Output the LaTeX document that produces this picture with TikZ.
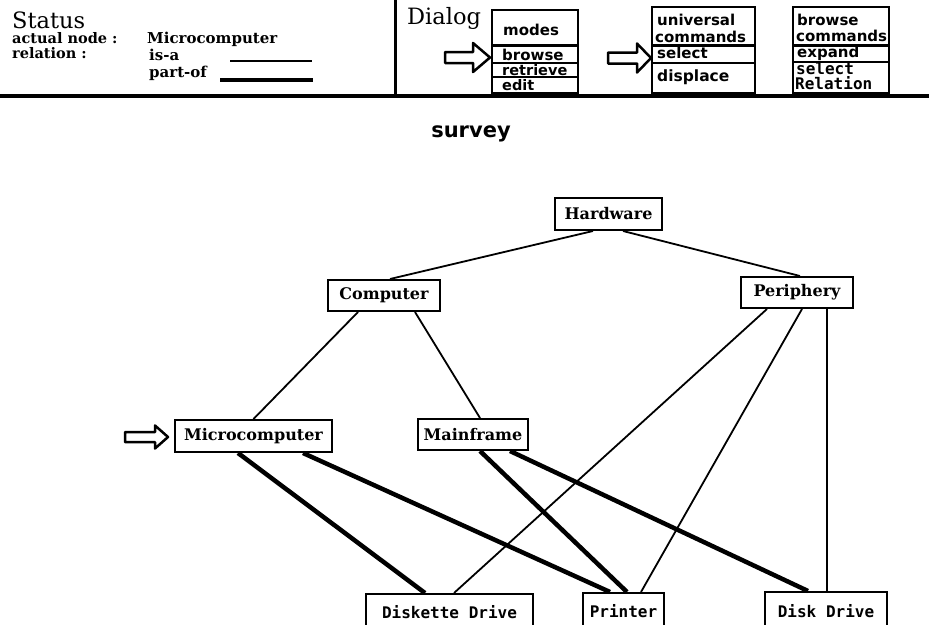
\documentclass[tikz,border=0pt]{standalone}
\usepackage{fontspec}
\newfontfamily\dvserif{DejaVu Serif}
\newfontfamily\dvsans{DejaVu Sans}
\newfontfamily\dvmono{DejaVu Sans Mono}
\begin{document}
\begin{tikzpicture}[x=1pt,y=-1pt,
  gnode/.style={draw, line width=2pt, fill=white, inner sep=0pt, font=\dvserif\bfseries\fontsize{16}{18}\selectfont},
  mnode/.style={draw, line width=2pt, fill=white, inner sep=0pt, font=\dvmono\bfseries\fontsize{16}{18}\selectfont},
  isa/.style={line width=1.8pt},
  partof/.style={line width=4.5pt},
  dlg/.style={anchor=base west, inner sep=0pt, font=\dvsans\bfseries\fontsize{15}{17}\selectfont},
  dlgmono/.style={anchor=base west, inner sep=0pt, font=\dvmono\bfseries\fontsize{16}{17}\selectfont},
  st/.style={anchor=base west, inner sep=0pt, font=\dvserif\bfseries\fontsize{14.5}{16}\selectfont},
  title/.style={anchor=base west, inner sep=0pt, font=\dvserif\fontsize{22.5}{24}\selectfont},
  frame/.style={line width=2pt},
  divider/.style={line width=3pt},
  harrow/.style={line width=2.5pt, line join=round},
]
\useasboundingbox (0,0) rectangle (929,624);

% ---------- header ----------
\draw[line width=4pt] (0,96) -- (929,96);
\draw[line width=3pt] (395,0) -- (395,96);

\node[title] (status) at (12,28) {Status};
\node[st] (actual) at (12,43) {actual node :};
\node[st, font=\dvserif\bfseries\fontsize{15}{16}\selectfont] (actualv) at (147,43) {Microcomputer};
\node[st] (relation) at (12,58) {relation :};
\node[st, font=\dvserif\bfseries\fontsize{15}{16}\selectfont] (isatext) at (149,60) {is-a};
\node[st, font=\dvserif\bfseries\fontsize{15}{16}\selectfont] (potext) at (149,77) {part-of};
\draw[isa] (230,61) -- (312,61);
\draw[partof] (220,80) -- (313,80);

\node[title] (dialog) at (407,24) {Dialog};

% box 1
\draw[frame] (492,10) rectangle (578,93);
\draw[divider] (492,45) -- (578,45);
\draw[frame] (492,63) -- (578,63);
\draw[frame] (492,77) -- (578,77);
\node[dlg] (modes) at (503,35) {modes};
\node[dlg] (browse) at (502,60) {browse};
\node[dlg, font=\dvsans\bfseries\fontsize{14.5}{16}\selectfont] (retrieve) at (502,75) {retrieve};
\node[dlg, font=\dvsans\bfseries\fontsize{14.5}{16}\selectfont] (edit) at (502,90.5) {edit};

% box 2
\draw[frame] (652,7) rectangle (755,93);
\draw[divider] (652,45) -- (755,45);
\draw[frame] (652,63) -- (755,63);
\node[dlg] (universal) at (657,25) {universal};
\node[dlg] (commands1) at (655,42) {commands};
\node[dlg] (select1) at (657,58.5) {select};
\node[dlg, font=\dvsans\bfseries\fontsize{15.5}{17}\selectfont] (displace) at (657,81) {displace};

% box 3
\draw[frame] (793,7) rectangle (889,93);
\draw[divider] (793,45) -- (889,45);
\draw[frame] (793,62) -- (889,62);
\node[dlg] (browse2) at (797,25) {browse};
\node[dlg] (commands2) at (796,41.5) {commands};
\node[dlg] (expand) at (797,57.5) {expand};
\node[dlgmono] (select2) at (796,74.5) {select};
\node[dlgmono] (relation2) at (795,89.5) {Relation};

% hollow arrows
\draw[harrow] (445,52) -- (473,52) -- (473,43) -- (490,57.5) -- (473,72) -- (473,63) -- (445,63) -- cycle;
\draw[harrow] (608,52.5) -- (637,52.5) -- (637,43.5) -- (651,58) -- (637,72.5) -- (637,63.5) -- (608,63.5) -- cycle;

% ---------- survey ----------
\node[anchor=base, inner sep=0pt, font=\dvsans\bfseries\fontsize{21}{23}\selectfont] (survey) at (471,137) {survey};

% ---------- graph ----------
\node[gnode, minimum width=107pt, minimum height=32pt] (hw) at (608.5,214) {Hardware};
\node[gnode, minimum width=112pt, minimum height=31pt] (comp) at (384,295.5) {Computer};
\node[gnode, minimum width=112pt, minimum height=31pt] (peri) at (797,292.5) {Periphery};
\node[gnode, minimum width=157pt, minimum height=32pt] (micro) at (253.5,436) {Microcomputer};
\node[gnode, minimum width=110pt, minimum height=31pt] (main) at (473,434.5) {Mainframe};
\node[mnode, minimum width=167pt, minimum height=36pt] (disk) at (449.5,612) {Diskette Drive};
\node[mnode, minimum width=81pt, minimum height=37pt] (printer) at (623.5,611.5) {Printer};
\node[mnode, minimum width=122pt, minimum height=38pt] (dd) at (826,611) {Disk Drive};

% is-a
\draw[isa] ([xshift=-15.5pt]hw.south) -- ([xshift=6pt]comp.north);
\draw[isa] ([xshift=14.5pt]hw.south) -- ([xshift=3pt]peri.north);
\draw[isa] ([xshift=-26pt]comp.south) -- (micro.north);
\draw[isa] ([xshift=31pt]comp.south) -- ([xshift=7pt]main.north);
\draw[isa] ([xshift=-30pt]peri.south) -- ([xshift=4.5pt]disk.north);
\draw[isa] ([xshift=5pt]peri.south) -- ([xshift=17.5pt]printer.north);
\draw[isa] ([xshift=30pt]peri.south) -- ([xshift=1pt]dd.north);

% part-of
\draw[partof] ([xshift=-15.5pt]micro.south) -- ([xshift=-24.5pt]disk.north);
\draw[partof] ([xshift=49.5pt]micro.south) -- ([xshift=-13.5pt]printer.north);
\draw[partof] ([xshift=7pt]main.south) -- ([xshift=3.5pt]printer.north);
\draw[partof] ([xshift=37pt]main.south) -- ([xshift=-18pt]dd.north);

% current node marker
\draw[harrow] (125,432) -- (155,432) -- (155,425.5) -- (168,437) -- (155,448.5) -- (155,442) -- (125,442) -- cycle;
\end{tikzpicture}
\end{document}
